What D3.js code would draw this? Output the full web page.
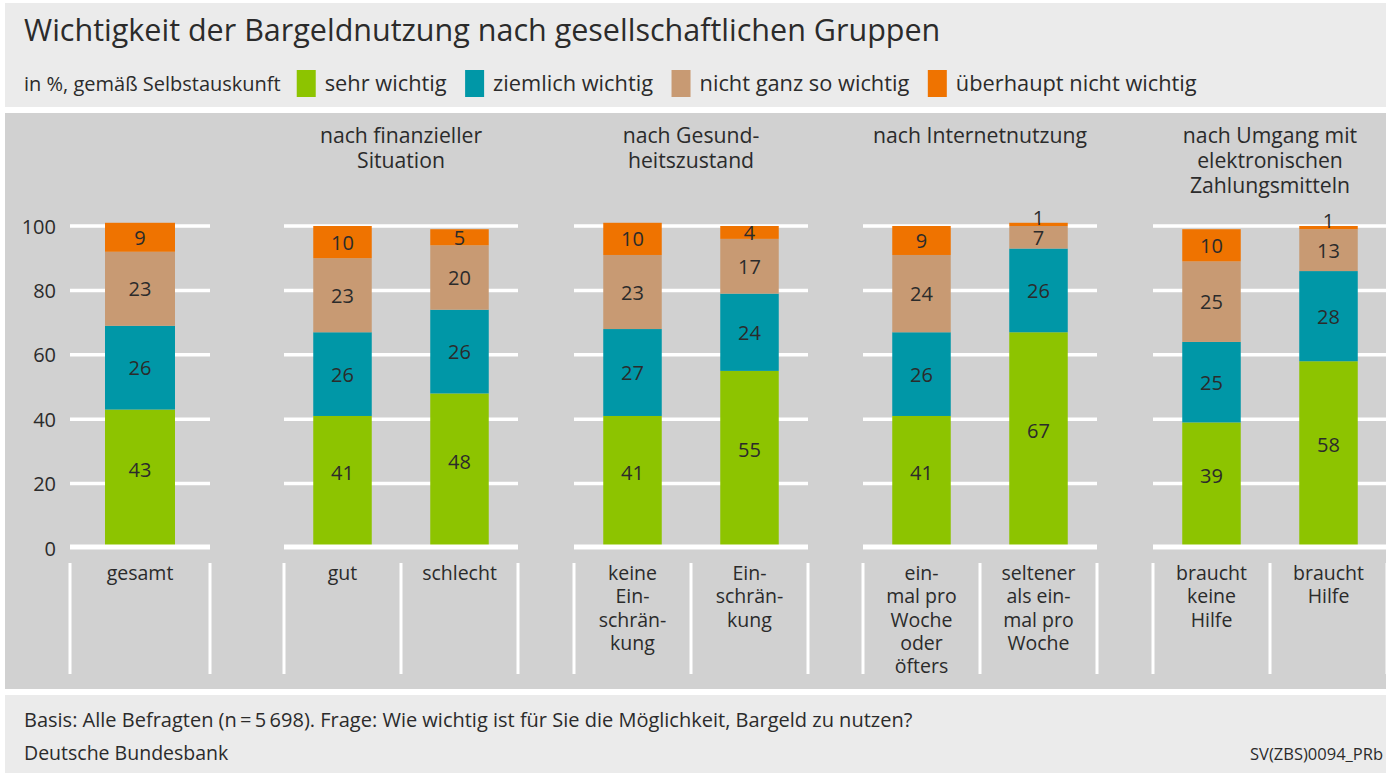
<!DOCTYPE html>
<html>
<head>
<meta charset="utf-8">
<script src="https://cdn.jsdelivr.net/npm/d3@7"></script>
<style>
  body { margin: 0; background: #fff; }
  svg text { font-family: "Open Sans", "Noto Sans", sans-serif; fill: #2b2b2b; }
</style>
</head>
<body>
<div class="root"></div>
<script>
var width = 1386,
    height = 773;

// data
var groupTitles = [[], ["nach finanzieller", "Situation"], ["nach Gesund-", "heitszustand"],
                   ["nach Internetnutzung"], ["nach Umgang mit", "elektronischen", "Zahlungsmitteln"]];
var categories = ["gesamt", "gut", "schlecht", "keine Einschränkung", "Einschränkung",
                  "einmal pro Woche oder öfters", "seltener als einmal pro Woche",
                  "braucht keine Hilfe", "braucht Hilfe"];
var categoryGroup = [0, 1, 1, 2, 2, 3, 3, 4, 4];
var categoryLines = [["gesamt"], ["gut"], ["schlecht"], ["keine", "Ein-", "schrän-", "kung"],
                     ["Ein-", "schrän-", "kung"], ["ein-", "mal pro", "Woche", "oder", "öfters"],
                     ["seltener", "als ein-", "mal pro", "Woche"], ["braucht", "keine", "Hilfe"],
                     ["braucht", "Hilfe"]];
var seriesNames = ["sehr wichtig", "ziemlich wichtig", "nicht ganz so wichtig", "überhaupt nicht wichtig"];
var sehrWichtig     = [43, 41, 48, 41, 55, 41, 67, 39, 58];
var ziemlichWichtig = [26, 26, 26, 27, 24, 26, 26, 25, 28];
var nichtGanz       = [23, 23, 20, 23, 17, 24, 7, 25, 13];
var ueberhauptNicht = [9, 10, 5, 10, 4, 9, 1, 10, 1];
var yTicks = [0, 20, 40, 60, 80, 100];

var colors = ["#8dc400", "#0097a7", "#c89a73", "#ef7300"];

// layout of the group panels (pixel extents)
var groupExtent = [[70, 210], [284, 518], [574, 808], [863, 1097], [1153, 1387]];

var table = categories.map(function(c, i) {
  return {cat: c, group: categoryGroup[i], lines: categoryLines[i],
          "sehr wichtig": sehrWichtig[i], "ziemlich wichtig": ziemlichWichtig[i],
          "nicht ganz so wichtig": nichtGanz[i], "überhaupt nicht wichtig": ueberhauptNicht[i]};
});
var stacked = d3.stack().keys(seriesNames)(table);

var svg = d3.select(".root").append("svg")
  .attr("width", width).attr("height", height);

// backgrounds
svg.append("rect").attr("x", 5).attr("y", 3).attr("width", width).attr("height", 104).attr("fill", "#ebebeb");
svg.append("rect").attr("x", 5).attr("y", 113).attr("width", width).attr("height", 576).attr("fill", "#d1d1d1");
svg.append("rect").attr("x", 5).attr("y", 695).attr("width", width).attr("height", 78).attr("fill", "#ebebeb");

// title + legend
svg.append("text").attr("x", 24).attr("y", 41).style("font-size", "30.5px").text("Wichtigkeit der Bargeldnutzung nach gesellschaftlichen Gruppen");

var legend = svg.append("g");
var lx = 24;
var lead = legend.append("text").attr("x", lx).attr("y", 91).style("font-size", "20px").text("in %, gemäß Selbstauskunft");
lx += lead.node().getComputedTextLength() + 16;
seriesNames.forEach(function(s, i) {
  legend.append("rect").attr("x", lx).attr("y", 70).attr("width", 19).attr("height", 27).attr("fill", colors[i]);
  var t = legend.append("text").attr("x", lx + 28).attr("y", 91).style("font-size", "21.8px").text(s);
  lx += 28 + t.node().getComputedTextLength() + 18.5;
});

var y = d3.scaleLinear().domain([0, 100]).range([548, 226]);

// per group band scales
var xScales = groupExtent.map(function(ext, g) {
  return d3.scaleBand()
    .domain(categories.filter(function(c, i) { return categoryGroup[i] === g; }))
    .range(ext);
});
function bandX(d) { return xScales[d.group](d.cat); }
function bandW(d) { return xScales[d.group].bandwidth(); }

var plot = svg.append("g");

// gridlines per group
groupExtent.forEach(function(ext, g) {
  plot.append("g").selectAll("line")
    .data(yTicks.filter(function(t) { return t > 0; }))
    .enter().append("line")
      .attr("x1", ext[0]).attr("x2", ext[1])
      .attr("y1", function(t) { return y(t); }).attr("y2", function(t) { return y(t); })
      .attr("stroke", "#fff").attr("stroke-width", 3.5);
});

// y tick labels
plot.append("g").selectAll("text")
  .data(yTicks)
  .enter().append("text")
    .attr("x", 56).attr("y", function(t) { return y(t); })
    .attr("text-anchor", "end").attr("dominant-baseline", "central")
    .style("font-size", "20px")
    .text(function(t) { return t; });

// bars
var layers = plot.selectAll(".layer")
  .data(stacked)
  .enter().append("g")
    .attr("class", "layer")
    .attr("fill", function(d, i) { return colors[i]; });

layers.selectAll("rect")
  .data(function(d) { return d; })
  .enter().append("rect")
    .attr("x", function(d) { return bandX(d.data) + bandW(d.data) * 0.25; })
    .attr("width", function(d) { return bandW(d.data) * 0.5; })
    .attr("y", function(d) { return y(d[1]); })
    .attr("height", function(d) { return y(d[0]) - y(d[1]); });

// zero line over the bars
groupExtent.forEach(function(ext) {
  plot.append("line")
    .attr("x1", ext[0]).attr("x2", ext[1])
    .attr("y1", y(0) - 1).attr("y2", y(0) - 1)
    .attr("stroke", "#fff").attr("stroke-width", 5);
});

// value labels
stacked.forEach(function(layer, li) {
  plot.append("g").selectAll("text")
    .data(layer)
    .enter().append("text")
      .attr("x", function(d) { return bandX(d.data) + bandW(d.data) / 2; })
      .attr("y", function(d) {
        var v = d[1] - d[0];
        if (v <= 2) return y(d[0]) - 1;
        // bottom segment labels sit a little above the middle
        var lo = li === 0 ? d[0] + 6 : d[0];
        return (y(lo) + y(d[1])) / 2;
      })
      .attr("dominant-baseline", function(d) { return (d[1] - d[0]) <= 2 ? "auto" : "central"; })
      .attr("text-anchor", "middle")
      .style("font-size", "20px")
      .text(function(d) { return d[1] - d[0]; });
});

// group titles
groupTitles.forEach(function(lines, g) {
  var cx = (groupExtent[g][0] + groupExtent[g][1]) / 2;
  plot.append("text")
    .attr("text-anchor", "middle").style("font-size", "21.2px")
    .selectAll("tspan").data(lines).enter().append("tspan")
      .attr("x", cx).attr("y", function(l, i) { return 143 + i * 25; })
      .text(function(l) { return l; });
});

// separators and category labels
groupExtent.forEach(function(ext, g) {
  var xs = xScales[g];
  var bounds = xs.domain().map(function(c) { return xs(c); }).concat([ext[1]]);
  plot.append("g").selectAll("line")
    .data(bounds)
    .enter().append("line")
      .attr("x1", function(b) { return b; }).attr("x2", function(b) { return b; })
      .attr("y1", 563).attr("y2", 674)
      .attr("stroke", "#fff").attr("stroke-width", 3);
});

table.forEach(function(d) {
  plot.append("text")
    .attr("text-anchor", "middle").style("font-size", "19.5px")
    .selectAll("tspan").data(d.lines).enter().append("tspan")
      .attr("x", bandX(d) + bandW(d) / 2)
      .attr("y", function(l, i) { return 580 + i * 23.3; })
      .text(function(l) { return l; });
});

// footer
svg.append("text").attr("x", 24).attr("y", 727).style("font-size", "20px")
  .text("Basis: Alle Befragten (n\u2009=\u20095\u2009698). Frage: Wie wichtig ist für Sie die Möglichkeit, Bargeld zu nutzen?");
svg.append("text").attr("x", 24).attr("y", 760).style("font-size", "19.5px").text("Deutsche Bundesbank");
svg.append("text").attr("x", 1383).attr("y", 760).attr("text-anchor", "end").style("font-size", "16.5px").text("SV(ZBS)0094_PRb");
</script>
</body>
</html>
